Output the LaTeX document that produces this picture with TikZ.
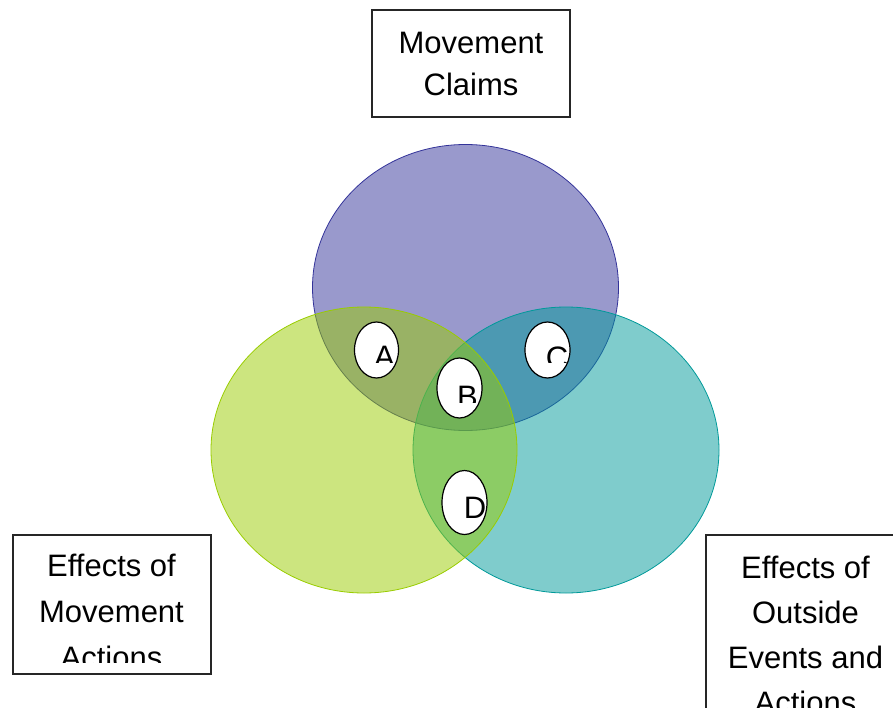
\documentclass[tikz,border=0pt]{standalone}
\usepackage{fontspec}
\setmainfont{Liberation Sans}
\usetikzlibrary{shapes.geometric}
\definecolor{cpurple}{RGB}{51,51,153}
\definecolor{cgreen}{RGB}{153,204,0}
\definecolor{cteal}{RGB}{0,153,153}
\tikzset{
  venn/.style={ellipse, inner sep=0pt, minimum width=306pt, minimum height=286pt, line width=0.8pt, fill opacity=0.5, draw opacity=1},
  lbl/.style={ellipse, inner sep=0pt, draw=black, line width=1.2pt, fill=white},
  txt/.style={anchor=base, inner sep=0pt, font=\fontsize{31}{36}\selectfont},
  box/.style={draw=black!85, line width=1.3pt, fill=white}
}
\begin{document}
\begin{tikzpicture}[x=1pt,y=-1pt]
\useasboundingbox (0,0) rectangle (893,708);
\clip (0,0) rectangle (893,708);
% venn circles
\node[venn, draw=cpurple, fill=cpurple] (claims) at (465.5,287.5) {};
\node[venn, draw=cteal, fill=cteal] (outside) at (566,450) {};
\node[venn, draw=cgreen, fill=cgreen] (actions) at (364,450) {};
% label ellipses
\node[lbl, minimum width=44pt, minimum height=56pt] (ea) at (376.5,350) {};
\node[lbl, minimum width=45pt, minimum height=60pt] (eb) at (459.5,388) {};
\node[lbl, minimum width=45pt, minimum height=56pt] (ec) at (547.5,350) {};
\node[lbl, minimum width=45pt, minimum height=64pt] (ed) at (464.5,502.5) {};
\begin{scope}
\clip (350,320) rectangle (405,362);
\node[txt] (la) at (384.5,367) {A};
\end{scope}
\begin{scope}
\clip (430,355) rectangle (490,402);
\node[txt] (lb) at (467.5,407) {B};
\end{scope}
\begin{scope}
\clip (520,320) rectangle (575,362);
\node[txt] (lc) at (557,368) {C};
\end{scope}
\node[txt] (ld) at (475,518.3) {D};
% boxes
\draw[box] (372,10) rectangle (570,117);
\node[txt] (t1) at (471,53.3) {Movement};
\node[txt] (t2) at (471,95.7) {Claims};
\draw[box] (13,535) rectangle (211,674);
\begin{scope}
\clip (13,535) rectangle (211,662.7);
\node[txt] (l1) at (111.5,576.7) {Effects of};
\node[txt] (l2) at (111.5,622.7) {Movement};
\node[txt] (l3) at (111.5,668.7) {Actions};
\end{scope}
\draw[box] (706,535) rectangle (905,760);
\node[txt] (r1) at (805.5,578.3) {Effects of};
\node[txt] (r2) at (805.5,623.3) {Outside};
\node[txt] (r3) at (805.5,668.3) {Events and};
\node[txt] (r4) at (805.5,713.3) {Actions};
\end{tikzpicture}
\end{document}
